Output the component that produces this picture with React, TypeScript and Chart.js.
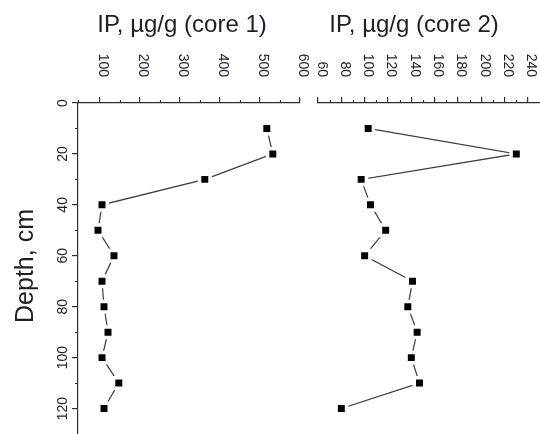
import React, { useEffect, useRef } from "react";
import { Chart, registerables } from "chart.js";

Chart.register(...registerables);

// ---------- data ----------
const DEPTHS = [10, 20, 30, 40, 50, 60, 70, 80, 90, 100, 110, 120];
const CORE1_IP = [517, 532, 362, 105, 95, 135, 105, 110, 120, 105, 147, 110];
const CORE2_IP = [103, 230, 97, 105, 118, 100, 141, 137, 145, 140, 147, 80];

const DEPTH_TICKS = [0, 20, 40, 60, 80, 100, 120];
const DEPTH_MINOR = [10, 30, 50, 70, 90, 110, 130];
const CORE1_TICKS = [100, 200, 300, 400, 500, 600];
const CORE1_MINOR = [150, 250, 350, 450, 550];
const CORE2_TICKS = [60, 80, 100, 120, 140, 160, 180, 200, 220, 240];
const CORE2_MINOR = [70, 90, 110, 130, 150, 170, 190, 210, 230];

const TITLE1 = "IP, µg/g (core 1)";
const TITLE2 = "IP, µg/g (core 2)";
const DEPTH_TITLE = "Depth, cm";

// ---------- style ----------
const AXIS = "#2e2e2e";
const TEXT = "#1e1e28";
const FONT = '"Liberation Sans", Arial, sans-serif';

type PanelCfg = {
  xTicks: number[];
  xMinor: number[];
  title: string;
  titleX: number;
  labelShift: number;
  showY: boolean;
};

function makeDecor(cfg: PanelCfg) {
  return {
    id: "decor",
    afterDraw(chart: any) {
      const ctx: CanvasRenderingContext2D = chart.ctx;
      const xs = chart.scales.x;
      const ys = chart.scales.y;
      const { top, left } = chart.chartArea;
      ctx.save();
      // minor ticks
      ctx.strokeStyle = AXIS;
      ctx.lineWidth = 1.2;
      ctx.beginPath();
      cfg.xMinor.forEach((v) => {
        const px = Math.round(xs.getPixelForValue(v)) + 0.5;
        ctx.moveTo(px, top);
        ctx.lineTo(px, top - 3);
      });
      if (cfg.showY) {
        DEPTH_MINOR.forEach((v) => {
          const py = Math.round(ys.getPixelForValue(v)) + 0.5;
          ctx.moveTo(left, py);
          ctx.lineTo(left - 3, py);
        });
        ctx.moveTo(left + 0.5, top);
        ctx.lineTo(left + 0.5, top - 3);
      }
      ctx.stroke();

      ctx.fillStyle = TEXT;
      // x tick labels (rotated +90)
      ctx.font = `14px ${FONT}`;
      ctx.textAlign = "right";
      ctx.textBaseline = "alphabetic";
      cfg.xTicks.forEach((v) => {
        const px = xs.getPixelForValue(v);
        ctx.save();
        ctx.translate(px + cfg.labelShift, 77);
        ctx.rotate(Math.PI / 2);
        ctx.fillText(String(v), 0, 0);
        ctx.restore();
      });
      // title
      ctx.font = `24px ${FONT}`;
      ctx.textAlign = "center";
      ctx.fillText(cfg.title, cfg.titleX, 32);

      if (cfg.showY) {
        ctx.font = `14px ${FONT}`;
        ctx.textAlign = "center";
        DEPTH_TICKS.forEach((v) => {
          const py = ys.getPixelForValue(v);
          ctx.save();
          ctx.translate(67, py);
          ctx.rotate(-Math.PI / 2);
          ctx.fillText(String(v), 0, 0);
          ctx.restore();
        });
        ctx.font = `25px ${FONT}`;
        ctx.save();
        ctx.translate(33, 266);
        ctx.rotate(-Math.PI / 2);
        ctx.fillText(DEPTH_TITLE, 0, 0);
        ctx.restore();
      }
      ctx.restore();
    },
  };
}

function buildConfig(
  values: number[],
  xMin: number,
  xMax: number,
  cfg: PanelCfg,
  padding: any
): any {
  return {
    type: "scatter",
    data: {
      datasets: [
        {
          data: DEPTHS.map((d, i) => ({ x: values[i], y: d })),
          showLine: true,
          borderColor: "#3a3a3a",
          borderWidth: 1.2,
          tension: 0,
          pointStyle: "rect",
          pointRadius: 7.4,
          pointBackgroundColor: "#000",
          pointBorderColor: "#fff",
          pointBorderWidth: 3.5,
        },
      ],
    },
    options: {
      responsive: false,
      animation: false,
      events: [],
      devicePixelRatio: 1,
      layout: { padding, autoPadding: false },
      plugins: { legend: { display: false }, tooltip: { enabled: false } },
      scales: {
        x: {
          type: "linear",
          position: "top",
          min: xMin,
          max: xMax,
          afterBuildTicks: (s: any) => {
            s.ticks = cfg.xTicks.map((v) => ({ value: v }));
          },
          afterFit: (s: any) => {
            s.height = 103;
          },
          ticks: { display: false },
          grid: {
            drawOnChartArea: false,
            drawTicks: true,
            tickLength: 6,
            color: AXIS,
            lineWidth: 1.2,
          },
          border: { display: true, color: AXIS, width: 1.2 },
        },
        y: {
          type: "linear",
          reverse: true,
          min: 0,
          max: 130,
          display: cfg.showY,
          afterBuildTicks: (s: any) => {
            s.ticks = DEPTH_TICKS.map((v) => ({ value: v }));
          },
          afterFit: (s: any) => {
            s.width = cfg.showY ? 78 : 0;
          },
          ticks: { display: false },
          grid: {
            drawOnChartArea: false,
            drawTicks: true,
            tickLength: 6,
            color: AXIS,
            lineWidth: 1.2,
          },
          border: { display: true, color: AXIS, width: 1.2 },
        },
      },
    },
    plugins: [makeDecor(cfg)],
  };
}

export default function App() {
  const leftRef = useRef<HTMLCanvasElement | null>(null);
  const rightRef = useRef<HTMLCanvasElement | null>(null);

  useEffect(() => {
    const c1 = new Chart(
      leftRef.current as HTMLCanvasElement,
      buildConfig(
        CORE1_IP,
        45,
        600,
        {
          xTicks: CORE1_TICKS,
          xMinor: CORE1_MINOR,
          title: TITLE1,
          titleX: 182,
          labelShift: -1.5,
          showY: true,
        },
        { left: 0, top: 0, right: 20, bottom: 0 }
      )
    );
    const c2 = new Chart(
      rightRef.current as HTMLCanvasElement,
      buildConfig(
        CORE2_IP,
        60,
        250.3,
        {
          xTicks: CORE2_TICKS,
          xMinor: CORE2_MINOR,
          title: TITLE2,
          titleX: 114,
          labelShift: -0.5,
          showY: false,
        },
        { left: 18, top: 0, right: 0, bottom: 0 }
      )
    );
    return () => {
      c1.destroy();
      c2.destroy();
    };
  }, []);

  return (
    <div
      style={{
        position: "fixed",
        left: 0,
        top: 0,
        width: 540,
        height: 434,
        background: "#fff",
        overflow: "hidden",
      }}
    >
      <canvas
        ref={leftRef}
        width={320}
        height={434}
        style={{ position: "absolute", left: 0, top: 0, width: 320, height: 434 }}
      />
      <canvas
        ref={rightRef}
        width={240}
        height={434}
        style={{ position: "absolute", left: 300, top: 0, width: 240, height: 434 }}
      />
    </div>
  );
}
